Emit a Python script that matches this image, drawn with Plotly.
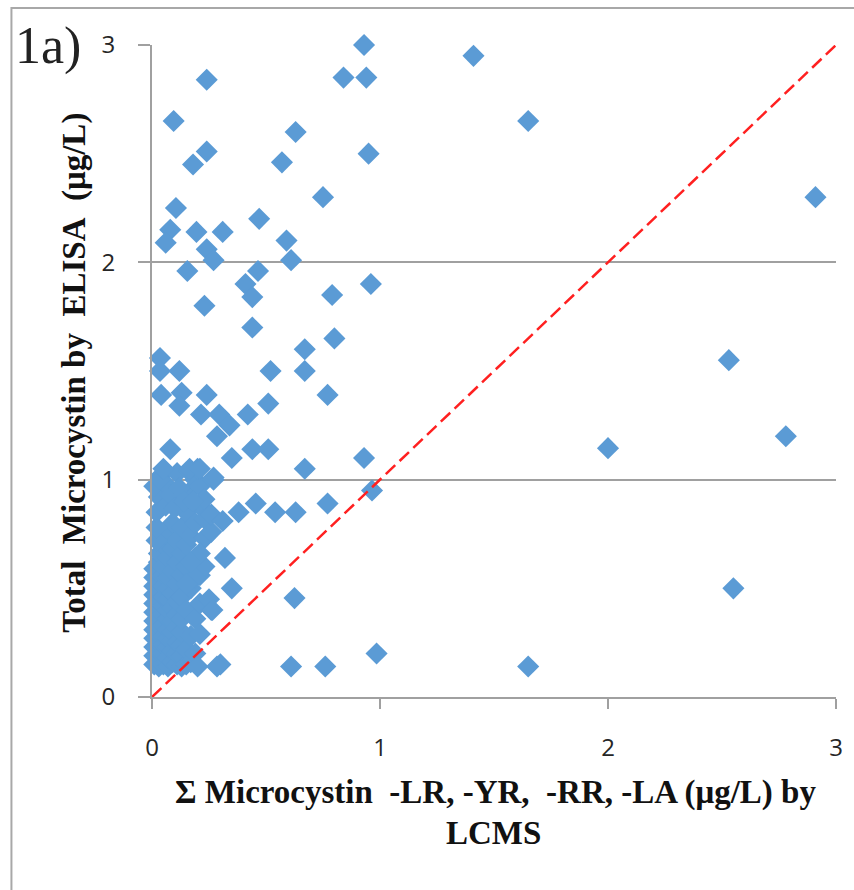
import plotly.graph_objects as go

# LCMS (x) vs ELISA (y) values
lcms_spread = [0.93, 1.41, 0.24, 0.84, 0.94, 0.095, 1.65, 0.63, 0.24, 0.95, 0.18, 0.57,
               0.105, 0.75, 2.91, 0.47, 0.31, 0.195, 0.08, 0.06, 0.59, 0.24, 0.27, 0.61,
               0.155, 0.465, 0.41, 0.44, 0.79, 0.96, 0.23, 0.44, 0.80, 0.67, 0.035, 0.035,
               2.53, 0.12, 0.52, 0.67, 0.77, 0.04, 0.13, 0.24, 0.12, 0.51, 0.215, 0.295,
               0.42, 0.34, 0.285, 2.78, 0.35, 0.93, 0.08, 0.44, 0.51, 2.00, 0.67, 0.05,
               0.965, 0.27, 0.455, 0.38, 0.54, 0.63, 0.77, 0.32, 0.35, 0.625, 0.265, 2.55,
               0.30, 0.61, 0.76, 0.985, 1.65, 0.20, 0.285, 0.165, 0.21]
elisa_spread = [3.00, 2.95, 2.84, 2.85, 2.85, 2.65, 2.65, 2.60, 2.51, 2.50, 2.45, 2.46,
                2.25, 2.30, 2.30, 2.20, 2.14, 2.14, 2.15, 2.09, 2.10, 2.06, 2.01, 2.01,
                1.96, 1.96, 1.90, 1.84, 1.85, 1.90, 1.80, 1.70, 1.65, 1.60, 1.56, 1.50,
                1.55, 1.50, 1.50, 1.50, 1.39, 1.39, 1.40, 1.39, 1.34, 1.35, 1.30, 1.30,
                1.30, 1.25, 1.20, 1.20, 1.10, 1.10, 1.14, 1.14, 1.14, 1.145, 1.05, 1.05,
                0.95, 1.01, 0.89, 0.85, 0.85, 0.85, 0.89, 0.64, 0.50, 0.455, 0.40, 0.50,
                0.15, 0.14, 0.14, 0.20, 0.14, 0.14, 0.14, 1.05, 1.05]

lcms_cluster = [0.01, 0.01, 0.01, 0.01, 0.01, 0.01, 0.01, 0.01, 0.01, 0.01, 0.01, 0.01,
                0.03, 0.03, 0.03, 0.03, 0.03, 0.03, 0.03, 0.03, 0.03, 0.03, 0.03, 0.03, 0.03, 0.03,
                0.05, 0.05, 0.05, 0.05, 0.05, 0.05, 0.05, 0.05, 0.05, 0.05, 0.05, 0.05,
                0.07, 0.07, 0.07, 0.07, 0.07, 0.07, 0.07, 0.07, 0.07, 0.07, 0.07, 0.07,
                0.09, 0.09, 0.09, 0.09, 0.09, 0.09, 0.09, 0.09, 0.09, 0.09,
                0.11, 0.11, 0.11, 0.11, 0.11, 0.11, 0.11, 0.11, 0.11,
                0.13, 0.13, 0.13, 0.13, 0.13, 0.13, 0.13, 0.13, 0.13,
                0.15, 0.15, 0.15, 0.15, 0.15, 0.15,
                0.17, 0.17, 0.17, 0.17, 0.17,
                0.19, 0.19, 0.19, 0.19, 0.19,
                0.21, 0.21, 0.21, 0.21, 0.21,
                0.23, 0.23, 0.23, 0.23,
                0.26, 0.26, 0.26, 0.27,
                0.02, 0.02, 0.02, 0.03, 0.01, 0.04, 0.06, 0.06, 0.08, 0.10, 0.11, 0.12,
                0.14, 0.16, 0.18, 0.20, 0.035, 0.19, 0.21, 0.17, 0.15, 0.31, 0.25]
elisa_cluster = [0.15, 0.19, 0.23, 0.27, 0.31, 0.35, 0.39, 0.43, 0.47, 0.51, 0.55, 0.59,
                 0.14, 0.17, 0.21, 0.25, 0.29, 0.33, 0.37, 0.41, 0.45, 0.49, 0.53, 0.57, 0.62, 0.66,
                 0.15, 0.20, 0.24, 0.28, 0.33, 0.38, 0.42, 0.46, 0.51, 0.56, 0.60, 0.70,
                 0.14, 0.18, 0.23, 0.27, 0.31, 0.36, 0.40, 0.45, 0.50, 0.55, 0.64, 0.74,
                 0.16, 0.21, 0.26, 0.30, 0.35, 0.41, 0.48, 0.58, 0.68, 0.80,
                 0.15, 0.20, 0.25, 0.32, 0.38, 0.44, 0.52, 0.62, 0.72,
                 0.14, 0.19, 0.24, 0.30, 0.36, 0.46, 0.56, 0.66, 0.78,
                 0.15, 0.22, 0.40, 0.60, 0.70, 0.85,
                 0.16, 0.28, 0.50, 0.74, 0.95,
                 0.20, 0.36, 0.64, 0.80, 1.00,
                 0.29, 0.43, 0.56, 0.88, 0.97,
                 0.60, 0.73, 0.82, 0.91,
                 0.40, 0.76, 0.84, 1.00,
                 0.72, 0.78, 0.85, 0.92, 0.97, 1.02, 0.88, 0.98, 0.93, 0.87, 1.03, 0.96,
                 0.90, 1.04, 0.90, 1.05, 1.00, 0.55, 0.66, 0.62, 0.52, 0.81, 0.45]

lcms = lcms_cluster + lcms_spread
elisa = elisa_cluster + elisa_spread

one_to_one = [0, 3]
axis_ticks = [0, 1, 2, 3]

x_title = "Σ Microcystin\u00a0 -LR, -YR,\u00a0 -RR, -LA (μg/L) by"
x_title2 = "LCMS"
y_title = "Total\u00a0 Microcystin by\u00a0 ELISA\u00a0 (μg/L)"
panel_label = "1a)"

W, H = 854, 890
L, R, T, B = 152, 11, 45, 193
pw, ph = W - L - R, H - T - B


def px_x(p):
    return (p - L) / pw


def px_y(p):
    return (H - B - p) / ph


fig = go.Figure()
fig.add_trace(go.Scatter(
    x=lcms, y=elisa, mode="markers", cliponaxis=False,
    marker=dict(symbol="diamond", size=17, color="#5B9BD5", line=dict(width=0)),
    showlegend=False))
fig.add_trace(go.Scatter(
    x=one_to_one, y=one_to_one, mode="lines", cliponaxis=False,
    line=dict(color="#FF2020", width=2.5, dash="13px,6px"), showlegend=False))

grey = "#A0A0A0"
tickfont = dict(family="Open Sans", size=24, color="#262626")
fig.update_xaxes(range=[0, 3], tickvals=axis_ticks, showgrid=False, zeroline=False,
                 showline=True, linecolor=grey, linewidth=2,
                 ticks="outside", ticklen=10, tickwidth=2, tickcolor=grey,
                 tickfont=tickfont, ticklabelstandoff=18)
fig.update_yaxes(range=[0, 3], tickvals=axis_ticks, showgrid=True, gridcolor=grey,
                 gridwidth=2, zeroline=False, showline=True, linecolor=grey, linewidth=2,
                 ticks="outside", ticklen=12, tickwidth=2, tickcolor=grey,
                 tickfont=tickfont, ticklabelstandoff=18)

serif_b = dict(family="Liberation Serif", size=33, color="#111111")
fig.add_annotation(text="<b>" + x_title + "</b>", xref="paper", yref="paper",
                   x=px_x(499), y=px_y(792), xanchor="center", yanchor="middle",
                   showarrow=False, font=serif_b)
fig.add_annotation(text="<b>" + x_title2 + "</b>", xref="paper", yref="paper",
                   x=px_x(497), y=px_y(833), xanchor="center", yanchor="middle",
                   showarrow=False, font=serif_b)
fig.add_annotation(text="<b>" + y_title + "</b>", xref="paper", yref="paper",
                   x=px_x(73), y=px_y(373), xanchor="center", yanchor="middle",
                   textangle=-90, showarrow=False, font=serif_b)
fig.add_annotation(text=panel_label, xref="paper", yref="paper",
                   x=px_x(12), y=px_y(46), xanchor="left", yanchor="middle",
                   showarrow=False, font=dict(family="Liberation Serif", size=52, color="#222222"))

fig.add_shape(type="rect", xref="paper", yref="paper",
              x0=px_x(10), x1=px_x(880), y0=px_y(920), y1=px_y(8),
              line=dict(color="#A8A8A8", width=2), fillcolor="rgba(0,0,0,0)", layer="below")

fig.update_layout(width=W, height=H, margin=dict(l=L, r=R, t=T, b=B),
                  paper_bgcolor="white", plot_bgcolor="white")

fig.write_html("out.html")
